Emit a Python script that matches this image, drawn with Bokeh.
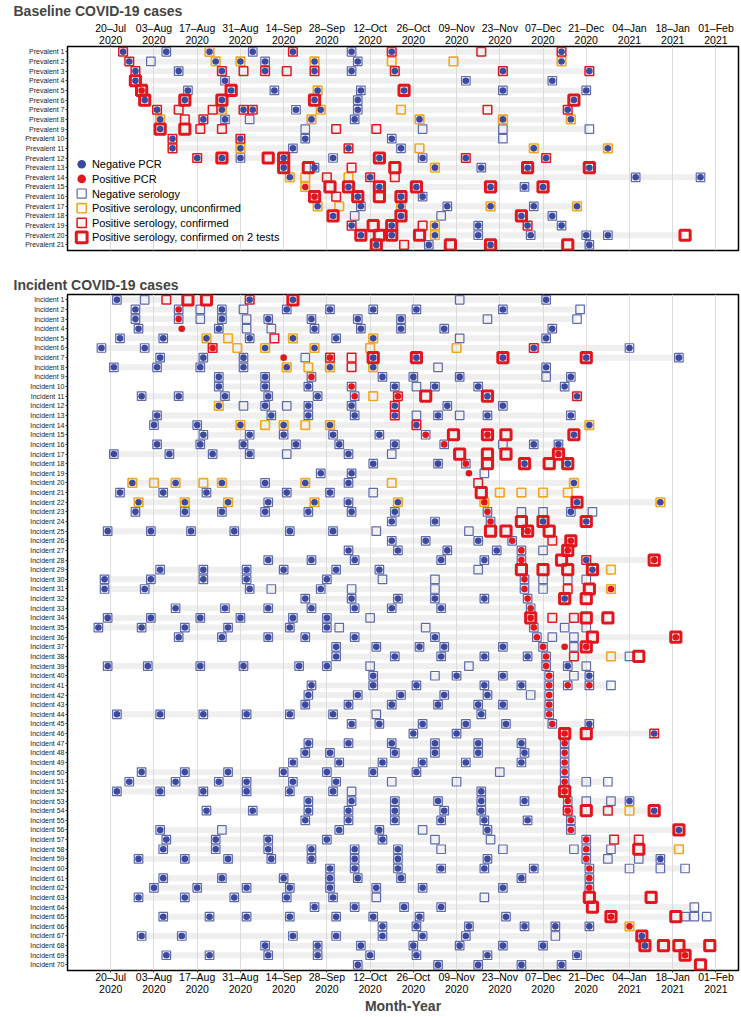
from bokeh.plotting import figure
from bokeh.layouts import column
from bokeh.models import FixedTicker, Range1d
from bokeh.core.properties import value
from bokeh.embed import file_html
from bokeh.resources import INLINE

# x values are days counted from 20 Jul 2020 (day 0)
TICK_DAYS = [0, 14, 28, 42, 56, 70, 84, 98, 112, 126, 140, 154, 168, 182, 196]
TICK_LABELS = ["20\u2013Jul\n2020", "03\u2013Aug\n2020", "17\u2013Aug\n2020", "31\u2013Aug\n2020",
               "14\u2013Sep\n2020", "28\u2013Sep\n2020", "12\u2013Oct\n2020", "26\u2013Oct\n2020",
               "09\u2013Nov\n2020", "23\u2013Nov\n2020", "07\u2013Dec\n2020", "21\u2013Dec\n2020",
               "04\u2013Jan\n2021", "18\u2013Jan\n2021", "01\u2013Feb\n2021"]

# ---------------- Baseline (prevalent) cases ----------------
PREV_PCR_NEG = {
    1: [4, 18, 32, 46, 59, 78, 91, 146], 2: [6, 34, 42, 50, 66, 80, 146],
    3: [8, 22, 36, 50, 66, 78, 92, 127, 155], 4: [8, 37, 115, 143],
    5: [25, 39, 53, 67, 81, 95, 127, 154], 6: [11, 24, 36, 66, 80, 150],
    7: [15, 36, 43, 46, 60, 68, 80, 148], 8: [16, 30, 37, 65, 79, 100, 127, 149],
    9: [16], 10: [20, 42, 63, 91], 11: [20, 42, 59, 77, 94, 137, 161],
    12: [28, 36, 42, 56, 72, 87, 101, 115, 141], 13: [56, 66, 105, 120, 135, 155],
    14: [58, 84, 170, 191], 15: [77, 87, 99, 123, 134, 140], 16: [80, 94, 101],
    17: [67, 81, 94, 109, 123, 137, 151], 18: [72, 94, 133, 143],
    19: [78, 91, 105, 119, 135, 146], 20: [81, 91, 105, 119, 136, 154, 161],
    21: [86, 103, 123, 155],
}
PREV_PCR_POS = {5: [10], 15: [63], 16: [66]}
PREV_SER_NEG = {
    1: [18, 46, 78], 2: [13, 50, 80], 3: [22, 78], 4: [37, 115, 143],
    5: [25, 53, 81, 127, 154], 6: [80], 7: [60, 80], 8: [37, 45, 79],
    9: [63, 101, 127, 155], 10: [63, 91, 127], 11: [59, 94], 12: [42, 72, 101],
    13: [66, 120], 14: [170, 191], 15: [134], 16: [101], 17: [81, 109, 137],
    18: [79, 107, 143], 19: [119, 146], 20: [119, 136, 154, 161], 21: [103, 155],
}
PREV_SER_UNCONF = {
    1: [32], 2: [34, 42, 66, 91, 111, 146], 5: [67], 7: [36, 68, 94],
    8: [16, 65, 100, 127, 149], 11: [42, 100, 137, 161], 13: [105], 14: [58, 63, 77],
    15: [63], 17: [67, 74, 94, 123, 151], 19: [105], 20: [105],
}
PREV_SER_CONF = {
    1: [4, 59, 91, 120, 146], 2: [6], 3: [8, 36, 43, 50, 57, 66, 92, 127, 155],
    7: [15, 22, 33, 43, 46, 122, 148], 8: [24, 30], 9: [29, 36, 73, 86], 10: [20, 42],
    11: [20, 77], 12: [28, 115, 141], 13: [78], 14: [70, 84, 92], 16: [73],
    19: [78, 101, 135], 21: [95],
}
PREV_SER_CONF2 = {
    4: [8], 5: [10, 39, 95], 6: [11, 24, 36, 66, 150], 9: [16, 24], 12: [36, 51, 56, 87],
    13: [56, 64, 92, 135, 155], 15: [71, 77, 87, 99, 123, 140], 16: [66, 80, 87, 94],
    18: [72, 94, 133], 19: [85, 91], 20: [81, 87, 91, 100, 186], 21: [86, 110, 123, 148],
}

# ---------------- Incident cases ----------------
INC_PCR_NEG = {
    1: [2, 45, 59, 141], 2: [8, 36, 57, 71, 85, 99, 127], 3: [8, 36, 51, 65, 80, 94],
    4: [9, 35, 66, 81, 94, 108, 143], 5: [3, 17, 31, 45, 59, 73, 85, 141],
    6: [-3, 11, 50, 66, 137, 168], 7: [16, 30, 43, 85, 99, 127, 154, 184],
    8: [1, 15, 29, 43, 57, 71, 85, 141], 9: [35, 50, 88, 98, 113, 149],
    10: [35, 50, 64, 92, 105, 119, 147], 11: [10, 22, 37, 51, 67, 122, 151],
    12: [35, 50, 64, 78, 92, 109, 127], 13: [15, 52, 64, 79, 92, 106, 122, 149],
    14: [14, 28, 42, 56, 71, 99, 155], 15: [30, 45, 56, 72, 87, 150],
    16: [15, 29, 43, 60, 74, 92, 137, 145], 17: [1, 19, 33, 45, 77], 18: [85, 106, 134, 148],
    19: [68, 78], 20: [7, 21, 36, 50, 63, 77, 150], 21: [3, 17, 31, 57, 71],
    22: [9, 24, 38, 51, 66, 77, 93, 151, 178], 23: [8, 24, 36, 50, 64, 78, 92, 149],
    24: [91, 105, 140, 154], 25: [-1, 13, 26, 40, 58, 72], 26: [91, 102, 119],
    27: [77, 93, 109, 125], 28: [51, 65, 79, 107, 121, 154], 29: [16, 30, 44, 56, 73, 87, 156],
    30: [-2, 13, 30, 44, 70], 31: [-2, 11, 45, 68], 32: [63, 78, 93, 105, 121, 147],
    33: [21, 37, 51, 65, 79, 91, 107], 34: [-1, 13, 29, 42, 59, 70], 35: [-4, 10, 24, 38, 58, 70],
    36: [22, 36, 51, 63, 79, 105], 37: [73, 86, 100, 108, 127], 38: [73, 92, 107, 121, 135],
    39: [-1, 12, 29, 43, 61, 70, 148], 40: [85, 112, 127, 155], 41: [65, 85, 99, 121, 133],
    42: [64, 80, 94, 108, 122], 43: [63, 77, 91, 106, 119, 127], 44: [2, 16, 30, 44, 58, 72, 120],
    45: [78, 87, 101, 115, 128, 155], 46: [98, 112, 176], 47: [64, 77, 91, 105, 119, 133],
    48: [63, 71, 92, 105, 119, 134], 49: [59, 74, 88, 101, 115, 133],
    50: [10, 24, 38, 56, 70, 85, 99], 51: [6, 21, 35, 44, 59, 73], 52: [2, 16, 30, 44, 58, 72, 120],
    53: [64, 78, 92, 106, 120, 134, 168], 54: [31, 46, 64, 77, 92, 108, 120, 176],
    55: [63, 77, 92, 107, 121, 135], 56: [16, 74, 87, 122, 184], 57: [18, 34, 51, 70, 88],
    58: [17, 34, 51, 65, 79, 93], 59: [9, 24, 38, 52, 65, 79, 93, 122, 178],
    60: [71, 79, 93, 107, 121, 137], 61: [17, 36, 56, 71, 80, 94, 133],
    62: [14, 28, 44, 58, 71, 86, 101, 127], 63: [9, 24, 40, 57, 72], 64: [66, 79, 95, 107],
    65: [17, 32, 44, 58, 73, 85, 100, 128], 66: [88, 99, 116, 134, 144, 155],
    67: [10, 23, 59, 73, 88, 101, 115, 172], 68: [50, 67, 81, 98, 113, 127, 140, 173],
    69: [18, 32, 51, 67, 84, 99, 122, 151], 70: [80, 106, 119, 133, 146],
}
INC_PCR_POS = {
    2: [22], 3: [22], 4: [23], 6: [33], 7: [56, 71], 9: [65], 10: [78], 11: [79, 93],
    15: [102, 122], 16: [108], 17: [145], 18: [115], 19: [116], 22: [121], 23: [122],
    24: [123], 25: [135], 26: [130, 149], 27: [133, 148], 28: [133, 176], 30: [134],
    31: [134, 162], 32: [135], 33: [136], 34: [136], 35: [137], 36: [138, 183],
    37: [140, 147, 154], 38: [141], 39: [141], 40: [142], 41: [142, 148, 155], 42: [142],
    43: [142], 44: [142], 45: [143], 46: [147], 47: [147], 48: [147], 49: [147], 50: [147],
    51: [147], 52: [147], 53: [148], 54: [148], 55: [149], 56: [149], 57: [154], 58: [154],
    59: [154], 60: [155], 61: [155], 62: [155], 65: [162], 66: [168], 69: [186],
}
INC_SER_NEG = {
    1: [2, 11, 113, 141], 2: [8, 22, 29, 36, 43, 57, 71, 85, 99, 127, 152],
    3: [8, 22, 29, 36, 44, 51, 65, 80, 94, 122, 151], 4: [9, 35, 44, 52, 66, 81, 94, 108, 143],
    5: [3, 17, 45, 73, 113, 141], 6: [-3, 11, 168], 7: [16, 30, 43, 63, 184],
    8: [1, 15, 29, 43, 106, 141], 9: [35, 50, 65, 88, 98, 113, 141, 149],
    10: [35, 50, 64, 78, 92, 99, 105, 119, 147], 11: [10, 22, 37, 51, 67, 79],
    12: [43, 50, 57, 64, 78, 109, 127], 13: [15, 52, 64, 79, 99, 106, 113, 122, 149],
    14: [14, 28], 15: [30, 45, 56, 72, 87, 102], 16: [15, 29, 43, 60, 74, 92, 108, 127, 137, 145],
    17: [1, 19, 33, 45, 57, 77, 91], 18: [85, 106, 115], 19: [68, 78, 121], 20: [50, 77],
    21: [3, 17, 31, 57, 71, 85], 22: [51, 77], 23: [8, 24, 36, 50, 64, 78, 92, 122, 133, 140, 149, 156],
    24: [91, 105, 123], 25: [-1, 13, 26, 40, 58, 72, 86, 116], 26: [91, 102, 119, 130],
    27: [77, 93, 109, 125, 133, 140], 28: [51, 65, 79, 107, 121, 133],
    29: [16, 30, 44, 56, 73, 87, 119], 30: [-2, 13, 30, 44, 70, 88, 105, 134, 140, 148, 154],
    31: [-2, 11, 45, 52, 68, 78, 105, 134, 140], 32: [63, 78, 93, 105, 121, 135],
    33: [21, 37, 51, 65, 79, 91, 107, 136], 34: [-1, 13, 29, 42, 59, 70, 84],
    35: [-4, 10, 24, 38, 58, 70, 74, 102, 137, 147, 154], 36: [22, 36, 51, 63, 79, 105, 138, 143, 150],
    37: [73, 86, 100, 108, 127, 140, 150], 38: [73, 92, 107, 121, 135, 141, 168],
    39: [-1, 12, 29, 43, 61, 70, 84, 116, 141, 148, 154], 40: [85, 105, 112, 127, 142, 150, 155],
    41: [65, 85, 99, 121, 133, 142, 148, 155, 162], 42: [64, 80, 94, 108, 122, 136, 142],
    43: [63, 77, 91, 106, 119, 127, 142], 44: [2, 16, 30, 44, 58, 72, 86, 120, 142],
    45: [78, 87, 101, 115, 128, 143, 155], 46: [98, 112], 47: [64, 77, 91, 105, 119, 133, 147],
    48: [63, 71, 92, 105, 119, 134, 147], 49: [59, 74, 88, 101, 115, 133, 147],
    50: [10, 24, 38, 56, 70, 85, 99, 126, 147], 51: [6, 21, 35, 44, 59, 73, 91, 112, 147, 154, 161],
    52: [2, 16, 30, 44, 58, 72, 78, 120], 53: [64, 78, 92, 106, 120, 134, 148, 154, 162, 168],
    54: [31, 46, 64, 77, 92, 108, 120], 55: [63, 77, 92, 107, 121, 135, 149],
    56: [16, 36, 74, 87, 101, 122, 149], 57: [18, 34, 51, 70, 88, 105, 123, 154],
    58: [17, 34, 51, 65, 79, 93, 107, 127, 150, 154, 162],
    59: [9, 24, 38, 52, 65, 79, 93, 122, 154, 161, 171, 178],
    60: [71, 79, 93, 107, 121, 137, 155, 168, 178, 186], 61: [17, 36, 56, 71, 80, 94, 133, 155],
    62: [14, 28, 44, 58, 71, 86, 101, 127, 155], 63: [9, 24, 40, 57, 72, 86, 121],
    64: [66, 79, 95, 107, 189], 65: [17, 32, 44, 58, 73, 85, 100, 128, 186, 189, 193],
    66: [88, 99, 116, 134, 144, 155], 67: [10, 23, 59, 73, 88, 101, 115, 144],
    68: [50, 67, 81, 98, 113, 127, 140], 69: [18, 32, 51, 67, 84, 99, 122, 151],
    70: [80, 106, 119, 133, 146],
}
INC_SER_UNCONF = {
    5: [31, 38, 59, 85], 6: [41, 50, 66, 84, 112], 8: [57, 64, 71, 85], 11: [85], 12: [35],
    14: [42, 50, 56, 63, 71, 155], 20: [7, 14, 21, 30, 36, 63, 91, 150], 21: [126, 133, 140, 148],
    22: [9, 24, 38, 66, 93, 121, 178], 29: [162], 31: [162], 38: [162], 54: [168], 58: [184], 66: [168],
}
INC_SER_CONF = {
    1: [18, 45], 5: [53], 6: [33, 137], 7: [71, 78], 8: [78], 11: [93, 151], 12: [92], 13: [92],
    14: [99], 20: [119], 26: [143], 28: [154], 31: [148], 34: [143, 150], 38: [150], 46: [176],
    54: [148, 161], 57: [163, 171],
}
INC_SER_CONF2 = {
    1: [25, 31, 59], 7: [85, 99, 127, 154], 11: [102, 122], 15: [111, 122, 128, 150],
    17: [113, 122, 128, 145], 18: [122, 134, 142, 148], 21: [120], 22: [151], 24: [133, 140, 154],
    25: [123, 128, 135, 142], 26: [149], 27: [148], 28: [146, 176], 29: [133, 140, 148, 156],
    31: [155], 32: [147, 154], 34: [136, 154, 161], 36: [156, 183], 37: [154], 38: [171],
    46: [147, 154], 52: [147], 54: [154, 176], 56: [184], 58: [171], 63: [155, 175], 64: [156],
    65: [162, 183], 67: [172], 68: [173, 179, 184, 194], 69: [186], 70: [191],
}

LEGEND_LABELS = ["Negative PCR", "Positive PCR", "Negative serology",
                 "Positive serology, unconfirmed", "Positive serology, confirmed",
                 "Positive serology, confirmed on 2 tests"]

NAVY = "#3B4A9E"
SQ_BLUE = "#5E69AD"
RED = "#E2171D"
ORANGE = "#F3A61E"
FONT = "Liberation Sans"

STYLES = {
    "pn": dict(marker="circle", size=6.6, fill_color=NAVY, line_color=None),
    "pp": dict(marker="circle", size=6.6, fill_color=RED, line_color=None),
    "sn": dict(marker="square", size=8.5, fill_color=None, line_color=SQ_BLUE, line_width=1.2),
    "su": dict(marker="square", size=8.6, fill_color=None, line_color=ORANGE, line_width=1.6),
    "sc": dict(marker="square", size=8.6, fill_color=None, line_color=RED, line_width=1.5),
    "s2": dict(marker="square", size=10.2, fill_color=None, line_color=RED, line_width=3),
}
DRAW_ORDER = ["sn", "su", "sc", "s2", "pn", "pp"]
LEGEND_ORDER = ["pn", "pp", "sn", "su", "sc", "s2"]


def flat(d):
    xs, ys = [], []
    for row, days in d.items():
        for day in days:
            xs.append(day)
            ys.append(row)
    return dict(x=xs, y=ys)


def panel(title, prefix, n, data, frame_h, x_loc, legend):
    p = figure(frame_width=671, frame_height=frame_h,
               x_range=Range1d(-14, 203.3), y_range=Range1d(n + 0.58, 0.45),
               x_axis_location=x_loc, output_backend="svg", toolbar_location=None,
               min_border_left=67, min_border_right=3, min_border_top=0, min_border_bottom=0)
    p.title.text = title
    p.title.text_font = FONT
    p.title.text_font_size = "14px"
    p.title.text_font_style = "bold"
    p.title.text_line_height = 1.0
    p.title.align = "left"
    p.title.offset = -54
    p.title.standoff = 0
    p.outline_line_color = "black"
    p.outline_line_width = 1.5
    p.background_fill_color = "white"

    ax = p.xaxis[0]
    ax.ticker = FixedTicker(ticks=TICK_DAYS)
    ax.major_label_overrides = {d: l for d, l in zip(TICK_DAYS, TICK_LABELS)}
    ax.major_label_text_font = FONT
    ax.major_label_text_font_size = "10.5px"
    ax.major_label_text_line_height = 1.0
    ax.major_label_text_color = "black"
    ax.major_label_standoff = -1
    ax.major_tick_out = 2
    ax.major_tick_in = 0
    ax.minor_tick_line_color = None
    ax.axis_line_color = None
    ax.major_tick_line_color = "#333333"

    ay = p.yaxis[0]
    rows = list(range(1, n + 1))
    ay.ticker = FixedTicker(ticks=rows)
    ay.major_label_overrides = {r: f"{prefix} {r}" for r in rows}
    ay.major_label_text_font = FONT
    ay.major_label_text_font_size = "7px"
    ay.major_label_text_color = "#222222"
    ay.major_label_standoff = 1
    ay.major_tick_out = 2
    ay.major_tick_in = 0
    ay.minor_tick_line_color = None
    ay.axis_line_color = None
    ay.major_tick_line_color = "#333333"

    p.ygrid.grid_line_color = None
    p.xgrid.grid_line_color = "#DCDCDC"
    p.xgrid.grid_line_width = 1

    # grey band from first to last test of each participant
    lo, hi = [], []
    for r in rows:
        vals = []
        for d in data.values():
            vals += d.get(r, [])
        lo.append(min(vals))
        hi.append(max(vals))
    p.hbar(y=rows, left=lo, right=hi, height=0.62, fill_color="#EFEFEF",
           line_color=None, level="image")

    for key in DRAW_ORDER:
        p.scatter(source=flat(data[key]), **STYLES[key])

    if legend:
        # legend block, laid out in the lower-left corner of the panel
        lx, ly0, dy = -9.4, 12.65, 1.516
        for i, key in enumerate(LEGEND_ORDER):
            st = dict(STYLES[key])
            if st["marker"] == "circle":
                st["size"] = 8.6
            else:
                st["size"] = st["size"] + 0.6
            p.scatter(x=[lx], y=[ly0 + i * dy], **st)
        p.text(x=[lx + 3.3] * 6, y=[ly0 + i * dy for i in range(6)], text=LEGEND_LABELS,
               text_font=value(FONT), text_font_size="11px", text_color="black",
               text_baseline="middle", text_align="left")
    return p


top = panel("Baseline COVID-19 cases", "Prevalent", 21,
            dict(pn=PREV_PCR_NEG, pp=PREV_PCR_POS, sn=PREV_SER_NEG, su=PREV_SER_UNCONF,
                 sc=PREV_SER_CONF, s2=PREV_SER_CONF2), 204, "above", True)
top.min_border_bottom = 22

bot = panel("Incident COVID-19 cases", "Incident", 70,
            dict(pn=INC_PCR_NEG, pp=INC_PCR_POS, sn=INC_SER_NEG, su=INC_SER_UNCONF,
                 sc=INC_SER_CONF, s2=INC_SER_CONF2), 676, "below", False)
bot.title.standoff = 4
bot.xaxis.major_label_standoff = -2
bot.xaxis.axis_label = "Month-Year"
bot.xaxis.axis_label_text_font = FONT
bot.xaxis.axis_label_text_font_size = "14px"
bot.xaxis.axis_label_text_font_style = "bold"
bot.xaxis.axis_label_text_line_height = 1.0
bot.xaxis.axis_label_standoff = 0

layout = column(top, bot, spacing=0)
open("out.html", "w").write(file_html(layout, INLINE))
